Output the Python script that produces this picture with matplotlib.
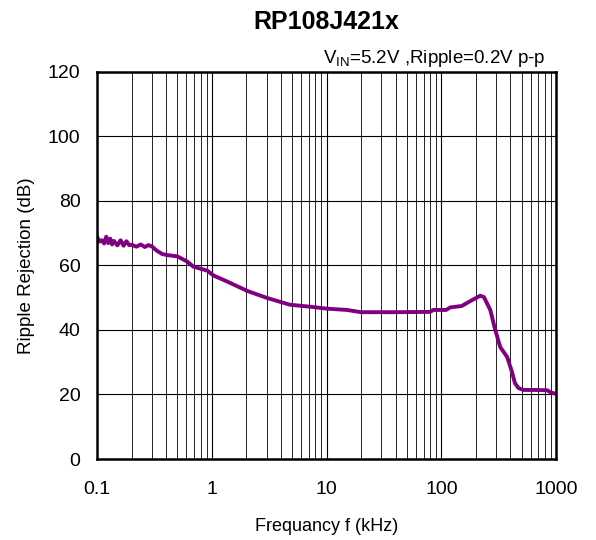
import matplotlib
matplotlib.use("Agg")
from matplotlib import pyplot as plt
from matplotlib.ticker import LogLocator, NullFormatter

plt.rcParams['font.family'] = ['Liberation Sans', 'DejaVu Sans']

#--- Data
freq_khz = [0.1, 0.105, 0.11, 0.115, 0.12, 0.125, 0.13, 0.135, 0.14, 0.15, 0.16, 0.17, 0.18,
            0.19, 0.2, 0.22, 0.24, 0.26, 0.28, 0.3, 0.33, 0.37, 0.41, 0.5, 0.61, 0.69, 0.91,
            1.03, 1.36, 2.03, 3.03, 4.8, 7.2, 10, 15, 20, 40, 80, 85, 110, 120, 150, 180,
            218, 235, 267, 295, 326, 375, 415, 438, 470, 517, 650, 838, 900, 1000]
rr_db = [68.8, 67.4, 67.8, 66.8, 68.9, 66.9, 68.3, 66.5, 67.6, 66.2, 67.8, 66.1, 67.5,
         66.3, 66.4, 65.8, 66.5, 65.7, 66.3, 65.9, 64.6, 63.5, 63.2, 62.8, 61.2, 59.6, 58.4,
         56.9, 55.0, 52.1, 49.9, 47.8, 47.2, 46.6, 46.2, 45.5, 45.5, 45.6, 46.2, 46.2, 47.0,
         47.4, 49.0, 50.6, 50.2, 46.2, 40.0, 34.7, 31.6, 26.7, 23.5, 22.0, 21.4, 21.4, 21.3,
         20.6, 20.2]

x_ticks = [0.1, 1, 10, 100, 1000]
x_tick_labels = ['0.1', '1', '10', '100', '1000']
y_ticks = [0, 20, 40, 60, 80, 100, 120]

fig = plt.figure(figsize=(5.96, 5.40), dpi=100)
ax = fig.add_axes([0.163, 0.150, 0.770, 0.717])

ax.plot(freq_khz, rr_db, color='#800080', linewidth=2.8)

ax.set_xscale('log')
ax.set_xlim(0.1, 1000)
ax.set_ylim(0, 120)
ax.set_xticks(x_ticks)
ax.set_xticklabels(x_tick_labels)
ax.xaxis.set_minor_locator(LogLocator(base=10, subs=range(2, 10)))
ax.xaxis.set_minor_formatter(NullFormatter())
ax.set_yticks(y_ticks)

ax.grid(which='major', axis='both', color='black', linewidth=0.8)
ax.grid(which='minor', axis='x', color='black', linewidth=0.6)
ax.tick_params(which='both', length=0, labelsize=14)
ax.tick_params(axis='x', pad=16)
ax.tick_params(axis='y', pad=12)
for s in ax.spines.values():
    s.set_linewidth(1.8)

ax.set_xlabel("Frequancy f (kHz)", fontsize=13, labelpad=14)
ax.set_ylabel("Ripple Rejection (dB)", fontsize=13.5, labelpad=9)
ax.set_title("RP108J421x", fontsize=18, fontweight='bold', pad=31)
ax.text(0.976, 1.022, r"V$_{\mathregular{IN}}$=5.2V ,Ripple=0.2V p-p", transform=ax.transAxes,
        ha='right', va='baseline', fontsize=13.5)

plt.savefig("out.png", dpi=100)
